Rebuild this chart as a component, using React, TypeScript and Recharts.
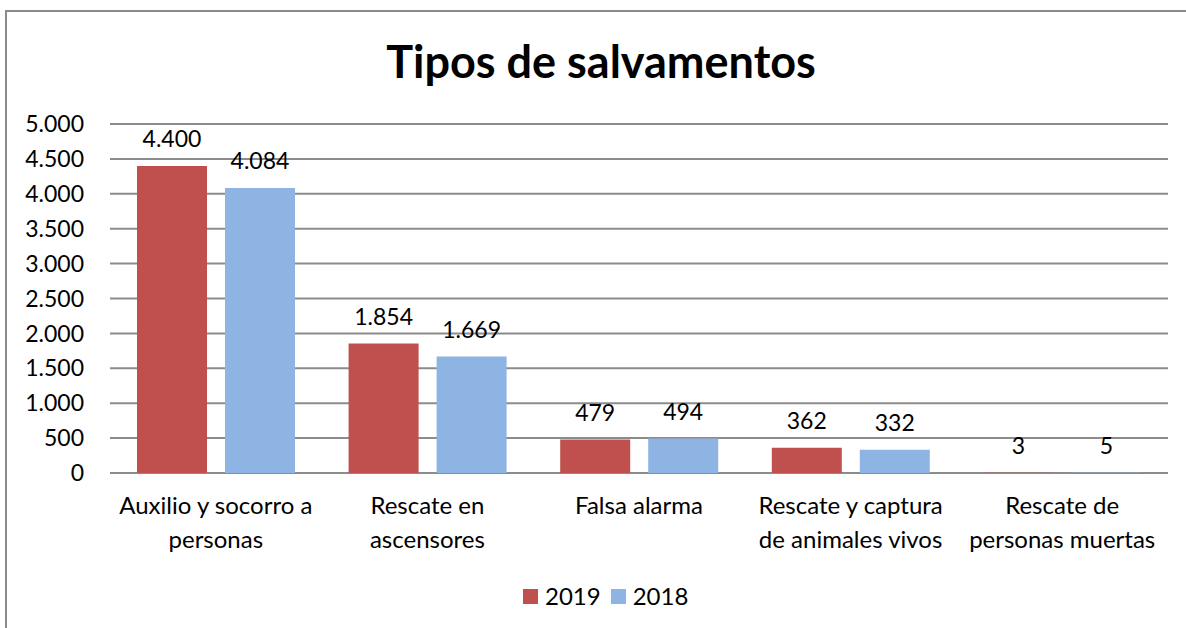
import { BarChart, Bar, XAxis, YAxis, CartesianGrid, LabelList } from 'recharts'

const categories = [
  'Auxilio y socorro a\npersonas',
  'Rescate en\nascensores',
  'Falsa alarma',
  'Rescate y captura\nde animales vivos',
  'Rescate de\npersonas muertas',
]
const values2019 = [4400, 1854, 479, 362, 3]
const values2018 = [4084, 1669, 494, 332, 5]
const yTicks = [0, 500, 1000, 1500, 2000, 2500, 3000, 3500, 4000, 4500, 5000]

const RED = '#C0504D'
const BLUE = '#8EB4E3'
const FONT = 'Lato, "Liberation Sans", sans-serif'

const fmt = (n: number) => String(n).replace(/\B(?=(\d{3})+(?!\d))/g, '.')

const data = categories.map((name, i) => ({
  name,
  y2019: values2019[i],
  y2018: values2018[i],
}))

const series = [
  { key: 'y2019', label: '2019', color: RED },
  { key: 'y2018', label: '2018', color: BLUE },
]

function CategoryTick(props: any) {
  const { x, payload } = props
  const lines = String(payload.value).split('\n')
  return (
    <text x={x} y={514} textAnchor="middle" fontFamily={FONT} fontSize={24} fill="#000">
      {lines.map((l, i) => (
        <tspan key={i} x={x} y={514 + i * 34}>
          {l}
        </tspan>
      ))}
    </text>
  )
}

function ValueLabel(props: any) {
  const { x, y, width, value } = props
  return (
    <text x={x + width / 2} y={y - 19} textAnchor="middle" fontFamily={FONT} fontSize={23} fill="#000">
      {fmt(value)}
    </text>
  )
}

export default function App() {
  return (
    <div style={{ position: 'absolute', left: 0, top: 0, width: 1186, height: 628, background: '#fff', overflow: 'hidden' }}>
      <div
        style={{
          position: 'absolute',
          left: 5,
          top: 10,
          width: 1220,
          height: 640,
          border: '2px solid #8a8a8a',
          boxSizing: 'border-box',
        }}
      />
      <div
        style={{
          position: 'absolute',
          left: 0,
          width: 1202,
          top: 36,
          textAlign: 'center',
          fontFamily: FONT,
          fontWeight: 700,
          fontSize: 45,
          lineHeight: '50px',
          color: '#000',
        }}
      >
        Tipos de salvamentos
      </div>
      <div style={{ position: 'absolute', left: 0, top: 0 }}>
        <BarChart
          width={1186}
          height={628}
          data={data}
          margin={{ top: 124, right: 18, bottom: 125, left: 20 }}
          barSize={70}
          barGap={18}
        >
          <CartesianGrid vertical={false} stroke="#8c8c8c" strokeWidth={2} />
          <XAxis dataKey="name" height={30} axisLine={false} tickLine={false} interval={0} tick={<CategoryTick />} />
          <YAxis
            width={90}
            domain={[0, 5000]}
            ticks={yTicks}
            interval={0}
            axisLine={false}
            tickLine={false}
            tickMargin={20}
            tickFormatter={fmt}
            tick={{ fontFamily: FONT, fontSize: 23, fill: '#000' }}
          />
          {series.map((s) => (
            <Bar key={s.key} dataKey={s.key} name={s.label} fill={s.color} isAnimationActive={false}>
              <LabelList dataKey={s.key} content={<ValueLabel />} />
            </Bar>
          ))}
        </BarChart>
      </div>
      <div
        style={{
          position: 'absolute',
          left: 523,
          top: 581,
          display: 'flex',
          alignItems: 'center',
          fontFamily: FONT,
          fontSize: 24,
          lineHeight: '30px',
          color: '#000',
        }}
      >
        {series.map((s) => (
          <div key={s.key} style={{ display: 'flex', alignItems: 'center', marginRight: 10 }}>
            <span style={{ width: 15, height: 15, background: s.color, display: 'inline-block', marginRight: 7 }} />
            <span>{s.label}</span>
          </div>
        ))}
      </div>
    </div>
  )
}
